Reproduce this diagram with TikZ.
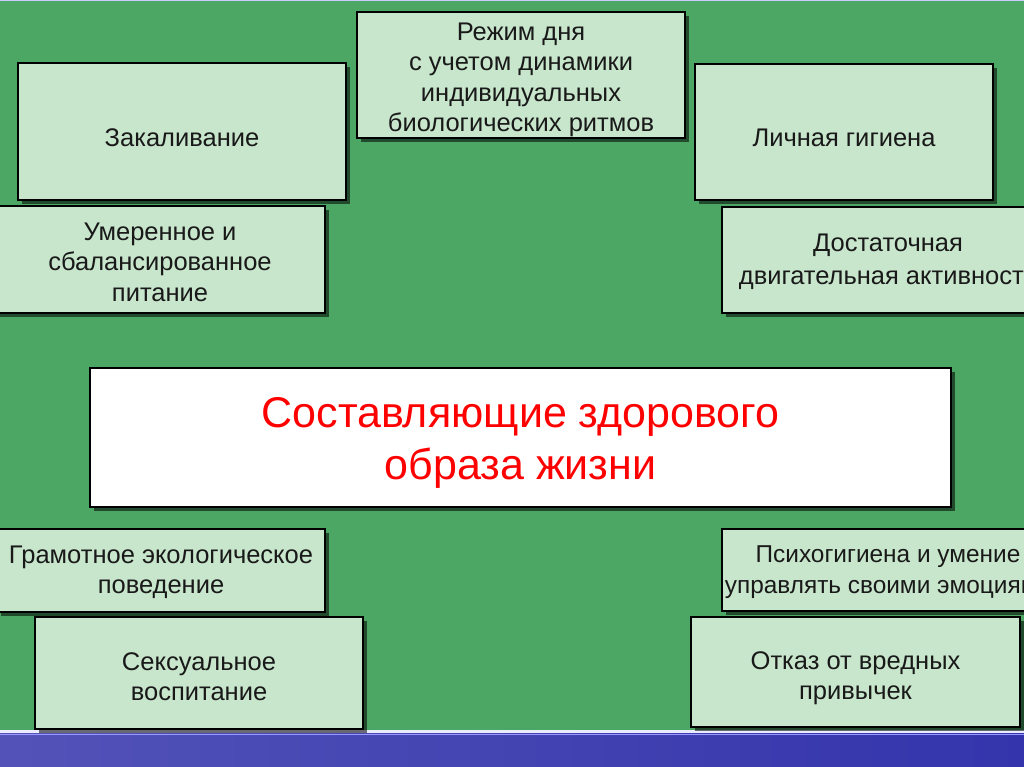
\documentclass[tikz,border=0pt]{standalone}
\usepackage{fontspec}
\setmainfont{Liberation Sans}
\usetikzlibrary{shadows}
\definecolor{bggreen}{HTML}{4CA664}
\definecolor{boxfill}{HTML}{C8E6CC}
\definecolor{bandblue}{HTML}{3434AC}
\definecolor{titlered}{HTML}{FF0000}
\tikzset{
  box/.style={draw=black, line width=2.4pt, fill=boxfill, inner sep=0pt,
    drop shadow={shadow xshift=4pt, shadow yshift=-4pt, fill=black, opacity=0.55}},
  titlebox/.style={box, fill=white},
  txt/.style={align=center, inner sep=0pt, text=black!90,
    font=\fontsize{25.5}{30.5}\selectfont},
  titletxt/.style={txt, text=titlered, font=\fontsize{43}{52}\selectfont}
}
\begin{document}
\begin{tikzpicture}[x=1pt,y=-1pt]
\useasboundingbox (0,0) rectangle (1024,767);
\clip (0,0) rectangle (1024,767);
\fill[bggreen] (0,0) rectangle (1024,767);
\fill[blue!20!white] (0,0) rectangle (1024,1.5);
% bottom band
\shade[left color=bandblue!85!white, right color=bandblue] (0,731) rectangle (1024,767);
\fill[white!92!blue] (0,730) rectangle (1024,732.5);
\fill[blue!40!white] (0,733.5) rectangle (1024,735);
% boxes
\node[box, minimum width=328pt, minimum height=126pt] (rezhim) at (521,75) {};
\node[txt] (rezhim-t) at (521,80) {Режим дня\\с учетом динамики\\индивидуальных\\биологических ритмов};
\node[box, minimum width=328pt, minimum height=137pt] (zak) at (182,131.5) {};
\node[txt] (zak-t) at (182,137.5) {Закаливание};
\node[box, minimum width=298pt, minimum height=136pt] (gig) at (844,132) {};
\node[txt] (gig-t) at (844,138) {Личная гигиена};
\node[box, minimum width=330pt, minimum height=107pt] (pit) at (160,259.5) {};
\node[txt] (pit-t) at (160,262) {Умеренное и\\сбалансированное\\питание};
\node[box, minimum width=332pt, minimum height=106pt] (dvig) at (888,260) {};
\node[txt, font=\fontsize{25.5}{32.5}\selectfont] (dvig-t) at (888,262) {Достаточная\\двигательная активность};
\node[titlebox, minimum width=861pt, minimum height=139pt] (main) at (520.5,437.5) {};
\node[titletxt] (main-t) at (520.5,443) {Составляющие здорового\\образа жизни};
\node[box, minimum width=328pt, minimum height=83pt] (eco) at (161,570.5) {};
\node[txt] (eco-t) at (161,572.5) {Грамотное экологическое\\поведение};
\node[box, minimum width=332pt, minimum height=82pt] (psy) at (888,570) {};
\node[txt, font=\fontsize{24.4}{31.5}\selectfont] (psy-t) at (888,572) {Психогигиена и умение\\управлять своими эмоциями};
\node[box, minimum width=328pt, minimum height=112pt] (sex) at (199,673) {};
\node[txt] (sex-t) at (199,676.5) {Сексуальное\\воспитание};
\node[box, minimum width=329pt, minimum height=110pt] (otk) at (855.5,672) {};
\node[txt] (otk-t) at (855.5,678) {Отказ от вредных\\привычек};
\end{tikzpicture}
\end{document}
